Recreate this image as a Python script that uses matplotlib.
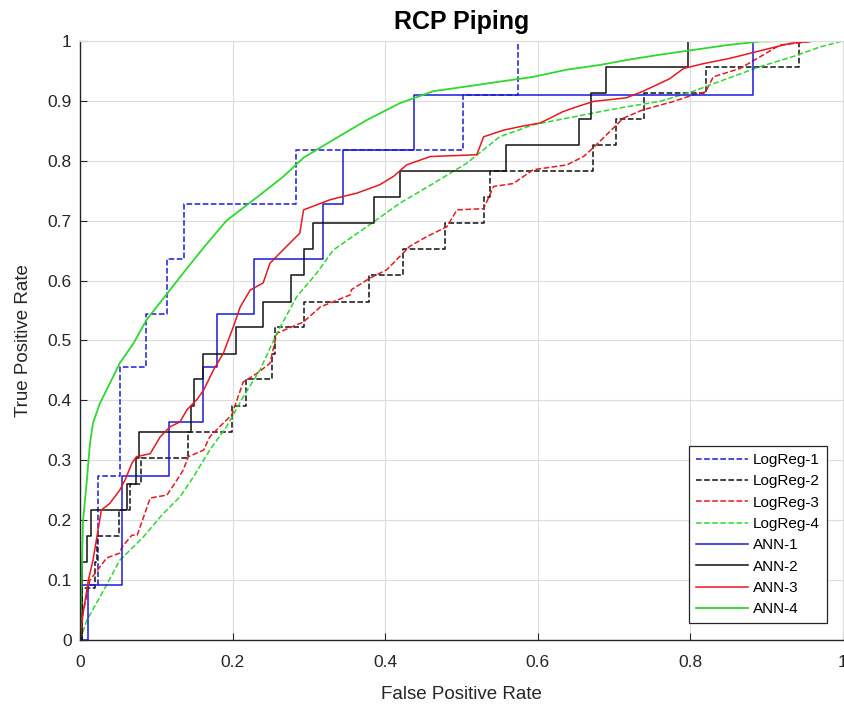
import matplotlib
matplotlib.use("Agg")
import matplotlib.pyplot as plt

plt.rcParams['font.family'] = ['Liberation Sans', 'DejaVu Sans']

# step curves: breakpoints (fpr) and tpr level held from that breakpoint on
logreg1_fpr = [0, 0.003, 0.023, 0.053, 0.086, 0.114, 0.136, 0.283, 0.502, 0.574, 1.0]
logreg1_tpr = [0, 0.091, 0.273, 0.455, 0.545, 0.636, 0.727, 0.818, 0.909, 1.0, 1.0]

logreg2_fpr = [0, 0.003, 0.02, 0.022, 0.051, 0.065, 0.08, 0.142, 0.199, 0.218, 0.252, 0.256,
               0.293, 0.379, 0.423, 0.479, 0.529, 0.537, 0.673, 0.702, 0.739, 0.821, 0.942, 1.0]
logreg2_tpr = [0, 0.087, 0.13, 0.174, 0.217, 0.261, 0.304, 0.348, 0.391, 0.435, 0.478, 0.522,
               0.565, 0.609, 0.652, 0.696, 0.739, 0.783, 0.826, 0.870, 0.913, 0.957, 1.0, 1.0]

ann1_fpr = [0, 0.01, 0.055, 0.117, 0.161, 0.18, 0.228, 0.318, 0.345, 0.438, 0.882, 1.0]
ann1_tpr = [0, 0.091, 0.273, 0.364, 0.455, 0.545, 0.636, 0.727, 0.818, 0.909, 1.0, 1.0]

ann2_fpr = [0, 0.002, 0.009, 0.014, 0.061, 0.074, 0.077, 0.145, 0.149, 0.161, 0.204, 0.24,
            0.277, 0.293, 0.306, 0.385, 0.42, 0.558, 0.654, 0.67, 0.69, 0.797, 1.0]
ann2_tpr = [0, 0.13, 0.174, 0.217, 0.261, 0.304, 0.348, 0.391, 0.435, 0.478, 0.522, 0.565,
            0.609, 0.652, 0.696, 0.739, 0.783, 0.826, 0.870, 0.913, 0.957, 1.0, 1.0]

# fine-grained curves: traced points
logreg3_fpr = [0, 0.004, 0.013, 0.035, 0.052, 0.055, 0.068, 0.075, 0.092, 0.114, 0.127, 0.135,
               0.142, 0.162, 0.17, 0.183, 0.199, 0.214, 0.232, 0.249, 0.258, 0.293, 0.315,
               0.354, 0.356, 0.38, 0.402, 0.419, 0.432, 0.454, 0.481, 0.494, 0.529, 0.542,
               0.568, 0.594, 0.638, 0.66, 0.673, 0.701, 0.712, 0.738, 0.778, 0.804, 0.82,
               0.83, 0.865, 0.896, 0.917, 0.965, 1.0]
logreg3_tpr = [0, 0.045, 0.1, 0.137, 0.145, 0.155, 0.175, 0.175, 0.237, 0.242, 0.267, 0.283,
               0.306, 0.317, 0.339, 0.356, 0.376, 0.431, 0.445, 0.462, 0.512, 0.531, 0.556,
               0.576, 0.585, 0.604, 0.618, 0.64, 0.657, 0.673, 0.69, 0.718, 0.72, 0.757,
               0.762, 0.785, 0.793, 0.807, 0.822, 0.857, 0.871, 0.885, 0.899, 0.91, 0.915,
               0.94, 0.954, 0.977, 0.993, 1.0, 1.0]

logreg4_fpr = [0, 0.009, 0.031, 0.052, 0.083, 0.109, 0.131, 0.149, 0.17, 0.192, 0.214, 0.236,
               0.258, 0.284, 0.31, 0.332, 0.376, 0.419, 0.463, 0.507, 0.55, 0.594, 0.638,
               0.682, 0.716, 0.76, 0.804, 0.848, 0.891, 0.935, 0.97, 1.0]
logreg4_tpr = [0, 0.033, 0.083, 0.133, 0.172, 0.211, 0.239, 0.273, 0.317, 0.356, 0.406, 0.451,
               0.512, 0.573, 0.612, 0.651, 0.69, 0.729, 0.762, 0.796, 0.84, 0.86, 0.871,
               0.882, 0.89, 0.899, 0.916, 0.937, 0.957, 0.974, 0.99, 1.0]

ann3_fpr = [0, 0.004, 0.011, 0.017, 0.028, 0.039, 0.052, 0.059, 0.068, 0.074, 0.092, 0.105,
            0.118, 0.131, 0.14, 0.153, 0.162, 0.175, 0.188, 0.201, 0.21, 0.223, 0.24, 0.249,
            0.266, 0.288, 0.293, 0.328, 0.363, 0.393, 0.411, 0.428, 0.459, 0.52, 0.529,
            0.555, 0.577, 0.603, 0.616, 0.633, 0.651, 0.673, 0.716, 0.738, 0.773, 0.791,
            0.817, 0.852, 0.896, 0.931, 0.965, 1.0]
ann3_tpr = [0, 0.045, 0.1, 0.133, 0.217, 0.228, 0.25, 0.267, 0.295, 0.306, 0.311, 0.339,
            0.356, 0.364, 0.384, 0.401, 0.417, 0.451, 0.479, 0.523, 0.556, 0.584, 0.596, 0.629,
            0.651, 0.679, 0.718, 0.735, 0.746, 0.76, 0.774, 0.793, 0.807, 0.81, 0.84,
            0.851, 0.857, 0.863, 0.871, 0.882, 0.89, 0.899, 0.905, 0.916, 0.937, 0.954,
            0.962, 0.971, 0.985, 0.996, 1.0, 1.0]

ann4_fpr = [0, 0.002, 0.004, 0.009, 0.013, 0.017, 0.026, 0.039, 0.052, 0.07, 0.087, 0.114,
            0.135, 0.162, 0.192, 0.238, 0.266, 0.293, 0.332, 0.376, 0.419, 0.463, 0.507,
            0.55, 0.594, 0.638, 0.682, 0.716, 0.76, 0.804, 0.848, 0.891, 0.935, 1.0]
ann4_tpr = [0, 0.1, 0.2, 0.267, 0.328, 0.362, 0.395, 0.428, 0.462, 0.495, 0.534, 0.578,
            0.612, 0.655, 0.7, 0.745, 0.773, 0.805, 0.835, 0.868, 0.896, 0.916, 0.924,
            0.932, 0.94, 0.952, 0.96, 0.968, 0.977, 0.985, 0.993, 0.999, 1.0, 1.0]

xticks = [0, 0.2, 0.4, 0.6, 0.8, 1.0]
xtick_labels = ['0', '0.2', '0.4', '0.6', '0.8', '1']
yticks = [0, 0.1, 0.2, 0.3, 0.4, 0.5, 0.6, 0.7, 0.8, 0.9, 1.0]
ytick_labels = ['0', '0.1', '0.2', '0.3', '0.4', '0.5', '0.6', '0.7', '0.8', '0.9', '1']

blue, black, red, green = '#1a1adb', '#111111', '#e8181e', '#2ed82e'
axcol = '#262626'

fig = plt.figure(figsize=(8.44, 7.09), dpi=100)
ax = fig.add_axes([0.0948, 0.0973, 0.904, 0.845])

ax.plot(logreg1_fpr, logreg1_tpr, '--', color=blue, lw=1.1, drawstyle='steps-post', label='LogReg-1')
ax.plot(logreg2_fpr, logreg2_tpr, '--', color=black, lw=1.1, drawstyle='steps-post', label='LogReg-2')
ax.plot(logreg3_fpr, logreg3_tpr, '--', color=red, lw=1.1, label='LogReg-3')
ax.plot(logreg4_fpr, logreg4_tpr, '--', color=green, lw=1.1, label='LogReg-4')
ax.plot(ann1_fpr, ann1_tpr, '-', color=blue, lw=1.1, drawstyle='steps-post', label='ANN-1')
ax.plot(ann2_fpr, ann2_tpr, '-', color=black, lw=1.1, drawstyle='steps-post', label='ANN-2')
ax.plot(ann3_fpr, ann3_tpr, '-', color=red, lw=1.1, label='ANN-3')
ax.plot(ann4_fpr, ann4_tpr, '-', color=green, lw=1.3, label='ANN-4')

ax.set_xlim(0, 1)
ax.set_ylim(0, 1)
ax.set_xticks(xticks)
ax.set_xticklabels(xtick_labels)
ax.set_yticks(yticks)
ax.set_yticklabels(ytick_labels)
ax.tick_params(direction='in', labelsize=12.5, length=5, colors=axcol)
ax.tick_params(axis='x', pad=11)
ax.tick_params(axis='y', pad=6)
ax.grid(True, color='#dddddd', lw=0.8)
ax.set_axisbelow(True)
for side in ['left', 'bottom']:
    ax.spines[side].set_color(axcol)
    ax.spines[side].set_linewidth(1.0)
for side in ['top', 'right']:
    ax.spines[side].set_color('#dddddd')
    ax.spines[side].set_linewidth(0.8)

fig.text(0.5468, 1 - 29.5 / 709, 'RCP Piping', fontsize=18, fontweight='bold',
         ha='center', va='baseline', color='black')
ax.set_xlabel('False Positive Rate', fontsize=13.5, color=axcol)
ax.set_ylabel('True Positive Rate', fontsize=13.5, color=axcol)
ax.xaxis.set_label_coords(0.5, -0.077)
ax.yaxis.set_label_coords(-0.063, 0.5)

leg = ax.legend(loc='lower right', bbox_to_anchor=(0.979, 0.028), borderaxespad=0,
                fontsize=11, handlelength=3.4, handletextpad=0.35, labelspacing=0.48,
                fancybox=False, framealpha=1, borderpad=0.45)
leg.get_frame().set_edgecolor(axcol)
leg.get_frame().set_linewidth(0.9)

fig.savefig('out.png', dpi=100, facecolor='white')
